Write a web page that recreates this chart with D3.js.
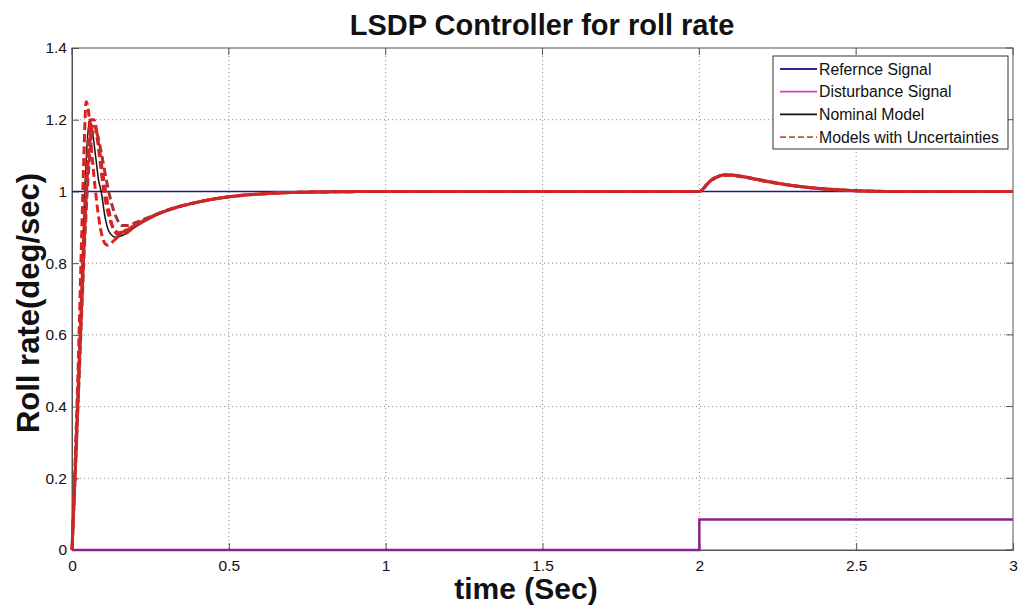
<!DOCTYPE html>
<html><head><meta charset="utf-8">
<script src="https://cdn.jsdelivr.net/npm/d3@7"></script>
<style>body{margin:0;background:#fff}svg{display:block;font-family:"Liberation Sans",Arial,sans-serif}</style>
</head><body><svg id="c" width="1021" height="611"></svg>
<script>
const xTicks = [0, 0.5, 1, 1.5, 2, 2.5, 3];
const yTicks = [0, 0.2, 0.4, 0.6, 0.8, 1, 1.2, 1.4];
const legendLabels = ["Refernce Signal", "Disturbance Signal", "Nominal Model", "Models with Uncertainties"];

const refT = [0, 3];
const refV = [1, 1];
const distT = [0, 2, 2, 3];
const distV = [0, 0, 0.085, 0.085];

const nomT = [0, 0.01, 0.02, 0.027, 0.033, 0.04, 0.048, 0.056, 0.065, 0.075, 0.085, 0.093, 0.105, 0.12, 0.14, 0.16, 0.2, 0.25, 0.3, 0.4, 0.5, 0.6, 0.7, 0.85, 1.0, 2.0, 2.03, 2.06, 2.09, 2.12, 2.2, 2.3, 2.4, 2.5, 2.6, 3.0];
const nomV = [0, 0.2, 0.42, 0.62, 0.8, 0.98, 1.13, 1.2, 1.17, 1.1, 1.03, 1.0, 0.93, 0.885, 0.872, 0.877, 0.9, 0.925, 0.945, 0.97, 0.985, 0.993, 0.997, 0.999, 1.0, 1.0, 1.025, 1.042, 1.046, 1.043, 1.03, 1.016, 1.007, 1.002, 1.0, 1.0];

const unc1T = [0, 0.01, 0.02, 0.03, 0.038, 0.045, 0.053, 0.062, 0.075, 0.09, 0.105, 0.115, 0.13, 0.16, 0.2, 0.25, 0.3, 0.4, 0.5, 0.6, 0.7, 0.85, 1.0, 2.0, 2.03, 2.06, 2.09, 2.12, 2.2, 2.3, 2.4, 2.5, 2.6, 3.0];
const unc1V = [0, 0.25, 0.52, 0.85, 1.1, 1.25, 1.22, 1.12, 1.0, 0.9, 0.855, 0.85, 0.86, 0.885, 0.905, 0.928, 0.946, 0.97, 0.985, 0.993, 0.997, 0.999, 1.0, 1.0, 1.026, 1.043, 1.047, 1.044, 1.031, 1.016, 1.007, 1.002, 1.0, 1.0];

const unc2T = [0, 0.01, 0.02, 0.03, 0.04, 0.05, 0.06, 0.07, 0.085, 0.1, 0.115, 0.13, 0.15, 0.17, 0.2, 0.25, 0.3, 0.4, 0.5, 0.6, 0.7, 0.85, 1.0, 2.0, 2.03, 2.06, 2.09, 2.12, 2.2, 2.3, 2.4, 2.5, 2.6, 3.0];
const unc2V = [0, 0.22, 0.46, 0.7, 0.92, 1.1, 1.2, 1.2, 1.13, 1.04, 0.96, 0.9, 0.878, 0.882, 0.902, 0.927, 0.946, 0.97, 0.985, 0.993, 0.997, 0.999, 1.0, 1.0, 1.024, 1.041, 1.045, 1.043, 1.03, 1.016, 1.007, 1.002, 1.0, 1.0];

const unc3T = [0, 0.01, 0.02, 0.03, 0.04, 0.05, 0.06, 0.07, 0.08, 0.095, 0.11, 0.125, 0.14, 0.16, 0.18, 0.2, 0.25, 0.3, 0.4, 0.5, 0.6, 0.7, 0.85, 1.0, 2.0, 2.03, 2.06, 2.09, 2.12, 2.2, 2.3, 2.4, 2.5, 2.6, 3.0];
const unc3V = [0, 0.2, 0.42, 0.64, 0.85, 1.02, 1.13, 1.17, 1.16, 1.1, 1.03, 0.97, 0.93, 0.905, 0.905, 0.912, 0.93, 0.947, 0.97, 0.985, 0.993, 0.997, 0.999, 1.0, 1.0, 1.025, 1.042, 1.046, 1.044, 1.031, 1.016, 1.007, 1.002, 1.0, 1.0];

const unc4T = [0, 0.01, 0.02, 0.03, 0.04, 0.05, 0.06, 0.07, 0.08, 0.09, 0.1, 0.115, 0.13, 0.15, 0.17, 0.2, 0.25, 0.3, 0.4, 0.5, 0.6, 0.7, 0.85, 1.0, 2.0, 2.03, 2.06, 2.09, 2.12, 2.2, 2.3, 2.4, 2.5, 2.6, 3.0];
const unc4V = [0, 0.21, 0.44, 0.66, 0.88, 1.06, 1.16, 1.19, 1.15, 1.08, 1.01, 0.94, 0.9, 0.885, 0.89, 0.905, 0.928, 0.946, 0.97, 0.985, 0.993, 0.997, 0.999, 1.0, 1.0, 1.025, 1.042, 1.046, 1.044, 1.03, 1.016, 1.007, 1.002, 1.0, 1.0];

const svg = d3.select("#c");
const L = 72, R = 1013, T = 48, B = 550;
const x = d3.scaleLinear().domain([0, 3]).range([L, R]);
const y = d3.scaleLinear().domain([0, 1.4]).range([B, T]);

// grid
const g = svg.append("g");
g.selectAll(".gx").data(xTicks.slice(1, -1)).join("line")
  .attr("x1", d => x(d)).attr("x2", d => x(d)).attr("y1", T).attr("y2", B)
  .attr("stroke", "#8a8a8a").attr("stroke-width", 1).attr("stroke-dasharray", "1,3");
g.selectAll(".gy").data(yTicks.slice(1, -1)).join("line")
  .attr("y1", d => y(d)).attr("y2", d => y(d)).attr("x1", L).attr("x2", R)
  .attr("stroke", "#8a8a8a").attr("stroke-width", 1).attr("stroke-dasharray", "1,3");

// axes
const xAxis = d3.axisBottom(x).tickValues(xTicks).tickFormat(d3.format("")).tickSizeInner(-7).tickSizeOuter(0).tickPadding(10);
const yAxis = d3.axisLeft(y).tickValues(yTicks).tickFormat(d3.format("")).tickSizeInner(-7).tickSizeOuter(0).tickPadding(5);
const ax = svg.append("g").attr("transform", `translate(0,${B})`).call(xAxis);
const ay = svg.append("g").attr("transform", `translate(${L},0)`).call(yAxis);
[ax, ay].forEach(a => {
  a.select(".domain").attr("stroke", "#555");
  a.selectAll(".tick line").attr("stroke", "#555");
  a.selectAll("text").attr("font-size", 15.5).attr("fill", "#111").attr("font-family", "Liberation Sans, Arial");
});
// top/right ticks & border
svg.append("g").selectAll("line").data(xTicks).join("line")
  .attr("x1", d => x(d)).attr("x2", d => x(d)).attr("y1", T).attr("y2", T + 7).attr("stroke", "#555");
svg.append("g").selectAll("line").data(yTicks).join("line")
  .attr("y1", d => y(d)).attr("y2", d => y(d)).attr("x1", R).attr("x2", R - 7).attr("stroke", "#555");
svg.append("rect").attr("x", L).attr("y", T).attr("width", R - L).attr("height", B - T)
  .attr("fill", "none").attr("stroke", "#555").attr("stroke-width", 1);

const line = d3.line().x(d => x(d[0])).y(d => y(d[1])).curve(d3.curveMonotoneX);
const lin = d3.line().x(d => x(d[0])).y(d => y(d[1]));
const zip = (a, b) => a.map((t, i) => [t, b[i]]);

const plot = svg.append("g");
plot.append("path").attr("d", lin(zip(refT, refV))).attr("fill", "none").attr("stroke", "#1c1c8c").attr("stroke-width", 1.5);
plot.append("path").attr("d", lin(zip(distT, distV))).attr("fill", "none").attr("stroke", "#8a208a").attr("stroke-width", 2.5);
plot.append("path").attr("d", line(zip(nomT, nomV))).attr("fill", "none").attr("stroke", "#111").attr("stroke-width", 1.5);

const uncs = [[unc1T, unc1V, "#e02020", 0], [unc2T, unc2V, "#c82828", 4], [unc3T, unc3V, "#b03030", 8], [unc4T, unc4V, "#d82424", 2]];
uncs.forEach(([t, v, c, off]) => {
  plot.append("path").attr("d", line(zip(t, v))).attr("fill", "none")
    .attr("stroke", c).attr("stroke-width", 3).attr("stroke-dasharray", "8,4").attr("stroke-dashoffset", off);
});

// legend
const lg = svg.append("g");
lg.append("rect").attr("x", 773).attr("y", 56).attr("width", 235).attr("height", 93)
  .attr("fill", "#fff").attr("stroke", "#333").attr("stroke-width", 1);
const lgStyles = [
  {c: "#2a2a90", w: 1.8, dash: null},
  {c: "#d040d0", w: 1.8, dash: null},
  {c: "#111", w: 1.8, dash: null},
  {c: "#c05040", w: 1.8, dash: "6,3"}
];
legendLabels.forEach((lab, i) => {
  const yy = 69 + i * 22.7;
  lg.append("line").attr("x1", 780).attr("x2", 817).attr("y1", yy).attr("y2", yy)
    .attr("stroke", lgStyles[i].c).attr("stroke-width", lgStyles[i].w)
    .attr("stroke-dasharray", lgStyles[i].dash);
  lg.append("text").attr("x", 819).attr("y", yy + 5.5).attr("font-size", 15.8).attr("fill", "#111").text(lab);
});

// titles
svg.append("text").attr("x", 542).attr("y", 35).attr("text-anchor", "middle")
  .attr("font-size", 29).attr("font-weight", "bold").attr("fill", "#111").text("LSDP Controller for roll rate");
svg.append("text").attr("x", 526).attr("y", 599).attr("text-anchor", "middle")
  .attr("font-size", 30).attr("font-weight", "bold").attr("fill", "#111").text("time (Sec)");
svg.append("text").attr("transform", "translate(39,303) rotate(-90)").attr("text-anchor", "middle")
  .attr("font-size", 31).attr("font-weight", "bold").attr("fill", "#111").text("Roll rate(deg/sec)");
</script></body></html>
